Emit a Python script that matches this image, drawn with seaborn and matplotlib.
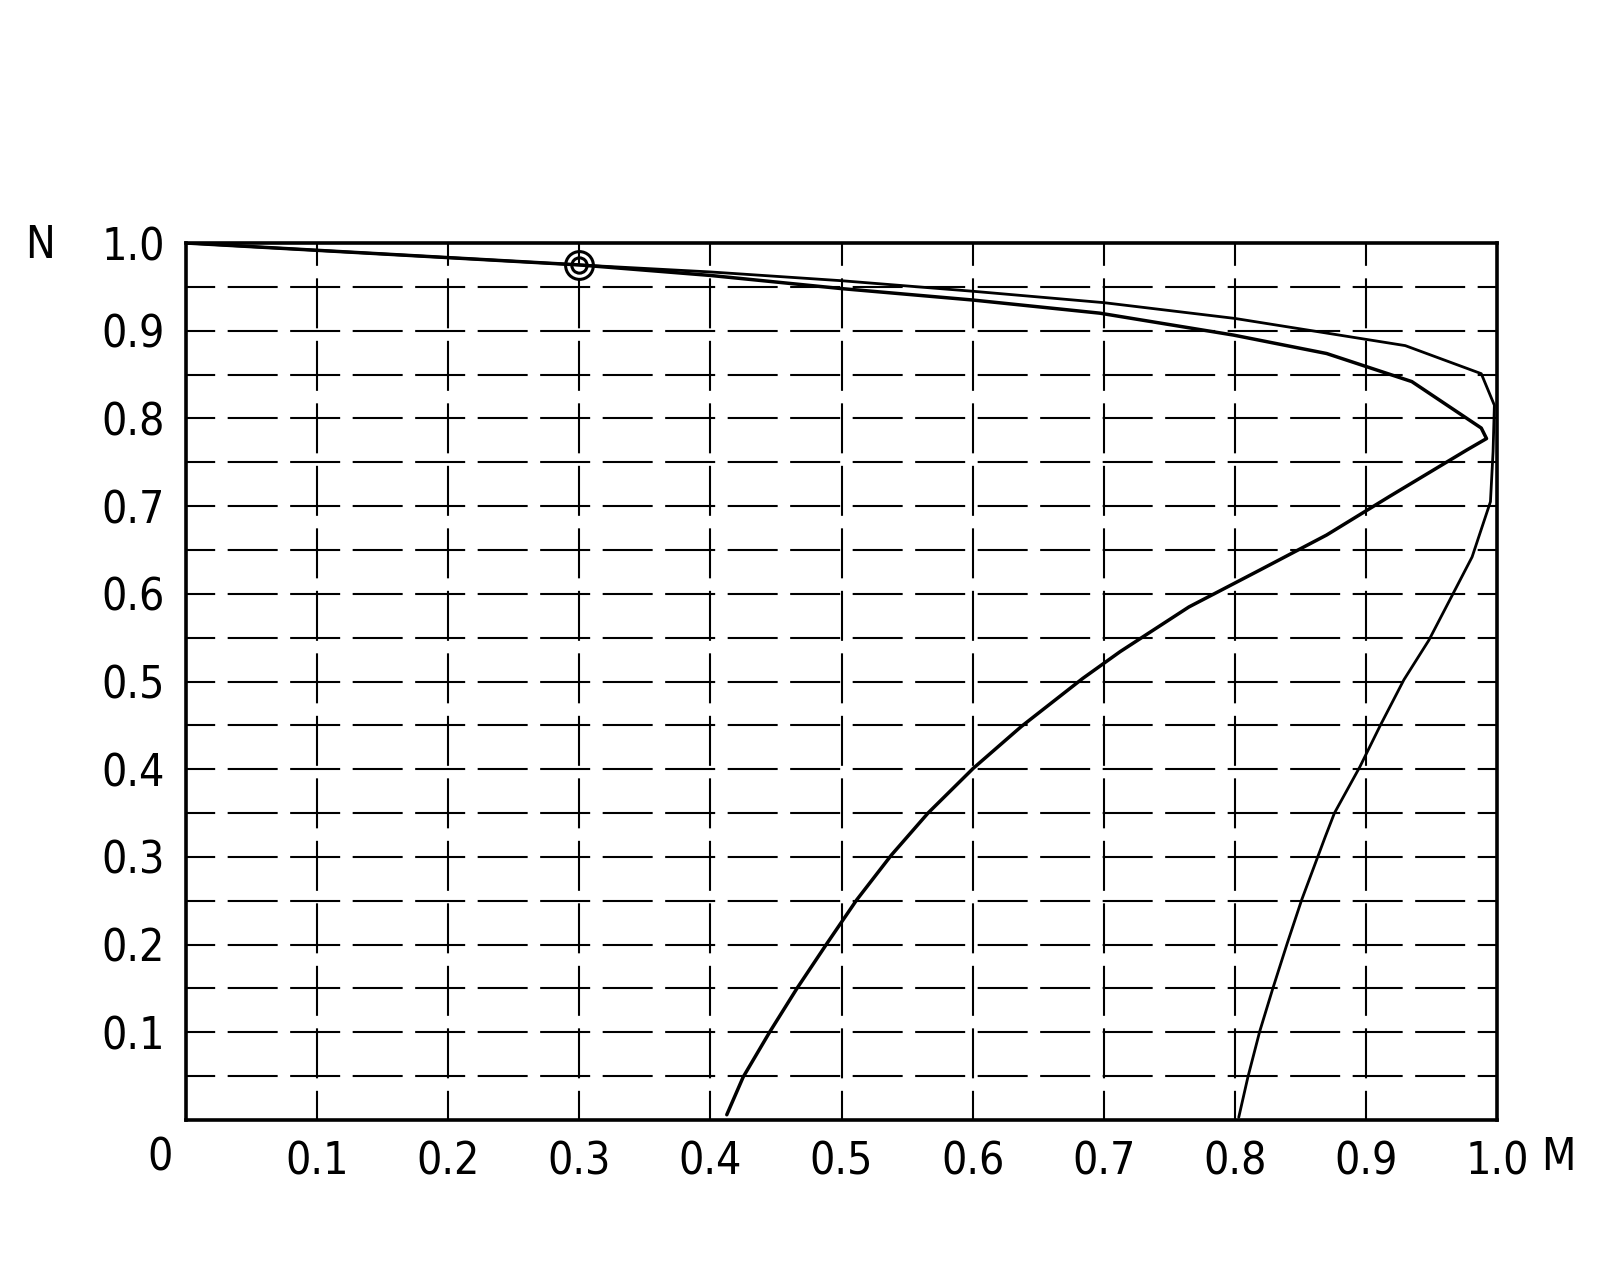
import numpy as np, pandas as pd, matplotlib
matplotlib.use("Agg")
import matplotlib.pyplot as plt
import seaborn as sns

# ---------- data ----------
outer_m = [0.0, 0.30, 0.40, 0.50, 0.60, 0.70, 0.80, 0.93, 0.988, 0.998, 0.997, 0.995,
           0.981, 0.964, 0.948, 0.929, 0.911, 0.8955, 0.876, 0.869, 0.851, 0.840,
           0.829, 0.819, 0.810, 0.803]
outer_n = [1.0, 0.975, 0.967, 0.957, 0.945, 0.932, 0.914, 0.883, 0.851, 0.815, 0.762, 0.705,
           0.642, 0.593, 0.547, 0.502, 0.450, 0.403, 0.350, 0.323, 0.251, 0.2015,
           0.150, 0.101, 0.049, 0.003]

inner_m = [0.0, 0.30, 0.40, 0.50, 0.60, 0.697, 0.799, 0.870, 0.935, 0.988, 0.992,
           0.977, 0.918, 0.870, 0.819, 0.765, 0.7125, 0.684, 0.637, 0.6005, 0.566,
           0.538, 0.5116, 0.489, 0.466, 0.4455, 0.425, 0.4125]
inner_n = [1.0, 0.975, 0.963, 0.948, 0.935, 0.920, 0.895, 0.874, 0.842, 0.789, 0.777,
           0.764, 0.711, 0.667, 0.627, 0.585, 0.534, 0.5035, 0.4485, 0.401, 0.350,
           0.302, 0.251, 0.2015, 0.150, 0.101, 0.049, 0.006]

marker_m, marker_n = [0.30], [0.975]

x_ticks = [0.1, 0.2, 0.3, 0.4, 0.5, 0.6, 0.7, 0.8, 0.9, 1.0]
x_labels = ["0.1", "0.2", "0.3", "0.4", "0.5", "0.6", "0.7", "0.8", "0.9", "1.0"]
y_ticks = [0.1, 0.2, 0.3, 0.4, 0.5, 0.6, 0.7, 0.8, 0.9, 1.0]
y_labels = ["0.1", "0.2", "0.3", "0.4", "0.5", "0.6", "0.7", "0.8", "0.9", "1.0"]
h_grid = [0.05 * k for k in range(1, 20)]
v_grid = [0.1 * k for k in range(1, 10)]

# ---------- style ----------
sns.set_style("white")
plt.rcParams['font.family'] = ['DejaVu Sans']
plt.rcParams['font.stretch'] = 'condensed'
plt.rcParams['font.weight'] = 'light'
plt.rcParams['text.color'] = 'black'
plt.rcParams['xtick.color'] = 'black'
plt.rcParams['ytick.color'] = 'black'
plt.rcParams['lines.scale_dashes'] = False
FS = 32

fig = plt.figure(figsize=(16, 12.8), dpi=100)
ax = fig.add_axes([0.11625, 0.125, 0.819375, 0.685156])

# dashed grid, same dash pattern in both directions
dash = (15, (36, 9))
for y in h_grid:
    ax.axhline(y, color='black', lw=1.5, linestyle=dash, zorder=1)
for x in v_grid:
    ax.axvline(x, color='black', lw=1.5, linestyle=dash, zorder=1)

df_out = pd.DataFrame({"M": outer_m, "N": outer_n})
df_in = pd.DataFrame({"M": inner_m, "N": inner_n})
sns.lineplot(data=df_out, x="M", y="N", sort=False, estimator=None,
             color='black', lw=2.0, ax=ax, zorder=3)
sns.lineplot(data=df_in, x="M", y="N", sort=False, estimator=None,
             color='black', lw=2.5, ax=ax, zorder=3)

# double-ring marker
ax.plot(marker_m, marker_n, 'o', ms=20, mfc='none', mec='black', mew=2.2, zorder=4)
ax.plot(marker_m, marker_n, 'o', ms=11, mfc='none', mec='black', mew=2.2, zorder=4)

ax.set_xlim(0, 1)
ax.set_ylim(0, 1)
ax.set_xticks(x_ticks)
ax.set_xticklabels(x_labels, fontsize=FS)
ax.set_yticks(y_ticks)
ax.set_yticklabels(y_labels, fontsize=FS)
ax.tick_params(axis='x', length=0, pad=15, colors='black')
ax.tick_params(axis='y', length=0, pad=15, colors='black')
ax.set_xlabel("")
ax.set_ylabel("")
for s in ax.spines.values():
    s.set_visible(True)
    s.set_color('black')
    s.set_linewidth(2.6)

ax.text(-0.02, -0.043, "0", fontsize=FS, ha='center', va='center', clip_on=False)
ax.text(-0.111, 0.997, "N", fontsize=FS, ha='center', va='center', clip_on=False)
ax.text(1.047, -0.043, "M", fontsize=FS, ha='center', va='center', clip_on=False)

plt.savefig("out.png", dpi=100)
